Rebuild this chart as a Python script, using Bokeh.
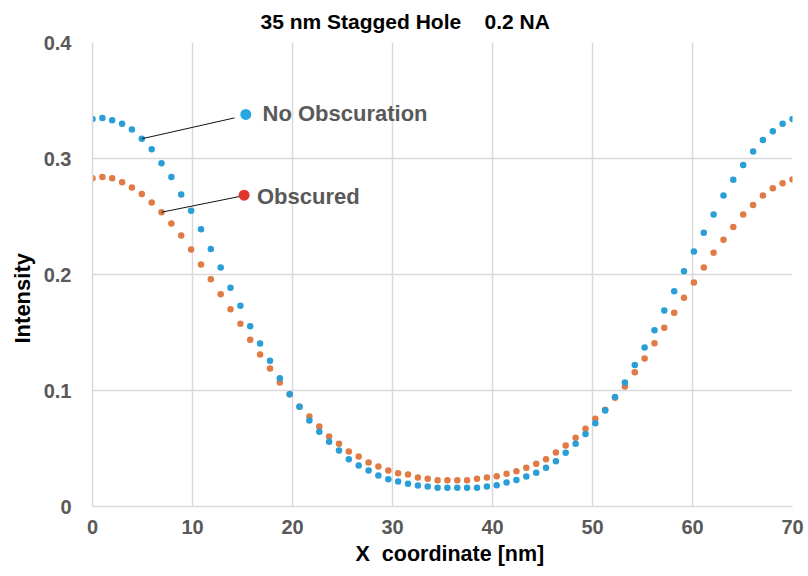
from bokeh.plotting import figure
from bokeh.models import Range1d, FixedTicker, ColumnDataSource, Title
from bokeh.core.properties import value
from bokeh.embed import file_html
from bokeh.resources import INLINE

# ---- data ----
x_nm = [0.00, 0.99, 1.97, 2.96, 3.94, 4.93, 5.92, 6.90, 7.89, 8.87,
        9.86, 10.85, 11.83, 12.82, 13.80, 14.79, 15.77, 16.76, 17.75, 18.73,
        19.72, 20.70, 21.69, 22.68, 23.66, 24.65, 25.63, 26.62, 27.61, 28.59,
        29.58, 30.56, 31.55, 32.54, 33.52, 34.51, 35.49, 36.48, 37.46, 38.45,
        39.44, 40.42, 41.41, 42.39, 43.38, 44.37, 45.35, 46.34, 47.32, 48.31,
        49.30, 50.28, 51.27, 52.25, 53.24, 54.23, 55.21, 56.20, 57.18, 58.17,
        59.15, 60.14, 61.13, 62.11, 63.10, 64.08, 65.07, 66.06, 67.04, 68.03,
        69.01, 70.00]

no_obscuration = [0.334, 0.335, 0.333, 0.330, 0.325, 0.317, 0.308, 0.296, 0.284, 0.269,
                  0.255, 0.239, 0.222, 0.206, 0.1885, 0.173, 0.1554, 0.1405, 0.1256, 0.1106,
                  0.0968, 0.0859, 0.0741, 0.0644, 0.0558, 0.0483, 0.0408, 0.0353, 0.031, 0.0267,
                  0.0235, 0.0216, 0.0196, 0.0181, 0.0172, 0.0161, 0.0161, 0.0161, 0.0161, 0.0161,
                  0.0172, 0.0183, 0.0207, 0.0228, 0.0259, 0.029, 0.0333, 0.039, 0.0463, 0.054,
                  0.0625, 0.0718, 0.0828, 0.0943, 0.107, 0.122, 0.137, 0.152, 0.169, 0.1856,
                  0.2028, 0.2198, 0.236, 0.2517, 0.268, 0.2816, 0.2945, 0.306, 0.316, 0.3235,
                  0.330, 0.334]

obscured = [0.283, 0.284, 0.283, 0.2796, 0.275, 0.2695, 0.262, 0.2537, 0.244, 0.2336,
            0.2216, 0.2086, 0.196, 0.183, 0.170, 0.1575, 0.1437, 0.131, 0.119, 0.107,
            0.0968, 0.0859, 0.0776, 0.069, 0.0603, 0.054, 0.0475, 0.0432, 0.0379, 0.0345,
            0.031, 0.0287, 0.0276, 0.025, 0.0239, 0.0227, 0.0227, 0.0227, 0.0227, 0.0239,
            0.025, 0.026, 0.0282, 0.0304, 0.0333, 0.0368, 0.0408, 0.0466, 0.0526, 0.0592,
            0.067, 0.0756, 0.0833, 0.0937, 0.1034, 0.1158, 0.1276, 0.1408, 0.154, 0.167,
            0.180, 0.193, 0.206, 0.2187, 0.230, 0.241, 0.2517, 0.260, 0.268, 0.2744,
            0.2787, 0.282]

x_ticks = [0, 10, 20, 30, 40, 50, 60, 70]
y_ticks = [0, 0.1, 0.2, 0.3, 0.4]
y_tick_labels = ["0", "0.1", "0.2", "0.3", "0.4"]

title_text = "35 nm Stagged Hole\u00a0\u00a0\u00a0 0.2 NA"
x_label = "X\u00a0 coordinate [nm]"
y_label = "Intensity"

series_names = ["No Obscuration", "Obscured"]
series_colors = ["#2A9ED6", "#E07B45"]
callout_dot_colors = ["#29A8E0", "#E2362B"]

# callout (in-chart legend) anchors, in data units
callout_from_index = [5, 7]
callout_to_x = [14.2, 14.75]
callout_to_y = [0.335, 0.2673]
callout_dot_x = [15.33, 15.16]
callout_dot_y = [0.338, 0.2684]
callout_text_x = [17.0, 16.45]
callout_text_y = [0.3385, 0.267]

# ---- figure ----
FONT = "Liberation Sans"

p = figure(width=806, height=574,
           x_range=Range1d(0, 70), y_range=Range1d(0, 0.4),
           output_backend="svg", toolbar_location=None,
           min_border_left=92, min_border_right=14,
           min_border_top=42, min_border_bottom=68)
p.outline_line_color = None
p.background_fill_color = "white"
p.border_fill_color = "white"

p.title.text = title_text
p.title.align = "left"
p.title.offset = 168
p.title.vertical_align = "top"
p.title.standoff = 16
p.title.text_font = FONT
p.title.text_font_size = "21px"
p.title.text_font_style = "bold"
p.title.text_color = "#000000"

p.xaxis.ticker = FixedTicker(ticks=x_ticks)
p.yaxis.ticker = FixedTicker(ticks=y_ticks)
p.yaxis.major_label_overrides = {t: s for t, s in zip(y_ticks, y_tick_labels)}
p.xgrid.ticker = FixedTicker(ticks=x_ticks)
p.ygrid.ticker = FixedTicker(ticks=y_ticks)

for g in (p.xgrid, p.ygrid):
    g.grid_line_color = "#D9D9D9"
    g.grid_line_width = 1.5

for ax in (p.xaxis, p.yaxis):
    ax.axis_line_color = "#D9D9D9"
    ax.axis_line_width = 1.5
    ax.major_tick_line_color = None
    ax.minor_tick_line_color = None
    ax.major_tick_out = 0
    ax.major_tick_in = 0
    ax.major_label_text_font = FONT
    ax.major_label_text_font_size = "20px"
    ax.major_label_text_font_style = "bold"
    ax.major_label_text_color = "#595959"

p.xaxis.major_label_standoff = 13
p.yaxis.major_label_standoff = 21

# axis titles as side titles so they can be shifted like in the reference
p.add_layout(Title(text=x_label, align="left", offset=263, vertical_align="top",
                   standoff=10, text_font=FONT, text_font_size="21.5px",
                   text_font_style="bold", text_color="#000000"), "below")
p.add_layout(Title(text=y_label, align="left", offset=163, vertical_align="middle",
                   standoff=10, text_font=FONT, text_font_size="22px",
                   text_font_style="bold", text_color="#000000"), "left")

src = ColumnDataSource(dict(x=x_nm, a=no_obscuration, b=obscured))
p.scatter("x", "b", source=src, size=6.5, fill_color=series_colors[1], line_color=None)
p.scatter("x", "a", source=src, size=6.5, fill_color=series_colors[0], line_color=None)

series = [no_obscuration, obscured]
p.segment(x0=[x_nm[i] for i in callout_from_index],
          y0=[series[k][i] for k, i in enumerate(callout_from_index)],
          x1=callout_to_x, y1=callout_to_y,
          line_color="#111111", line_width=1)
p.scatter(callout_dot_x, callout_dot_y, size=11, fill_color=callout_dot_colors, line_color=None)
p.text(callout_text_x, callout_text_y, text=series_names,
       text_font=value(FONT), text_font_style="bold", text_font_size="22px",
       text_color="#595959", text_baseline="middle", text_align="left")

open("out.html", "w").write(file_html(p, INLINE))
